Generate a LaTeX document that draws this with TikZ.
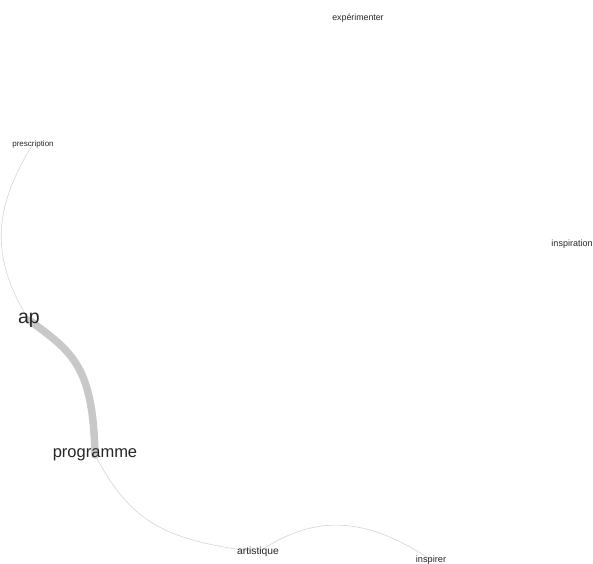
\documentclass[tikz,border=0pt]{standalone}
\usepackage{fontspec}
\setmainfont{Liberation Sans}
\usetikzlibrary{backgrounds}
\definecolor{edgegray}{HTML}{D4D4D4}
\definecolor{thickgray}{HTML}{C8C8C8}
\tikzset{
    word/.style={inner sep=0pt, text=black!85},
    thin edge/.style={draw=edgegray, line width=0.6pt},
    thick edge/.style={draw=thickgray, line width=7.5pt, line cap=round}
}

\begin{document}
\begin{tikzpicture}[x=1pt,y=-1pt]
        \useasboundingbox (0,0) rectangle (593,563);
        \clip (0,0) rectangle (593,563);

        \node[word, font=\fontsize{8.8}{10}\selectfont] (exp) at (358,18) {expérimenter};
        \node[word, font=\fontsize{8}{9}\selectfont] (presc) at (33,144) {prescription};
        \node[word, font=\fontsize{9}{10}\selectfont] (inspi) at (572,244) {inspiration};
        \node[word, font=\fontsize{19.5}{21}\selectfont] (ap) at (29,320) {ap};
        \node[word, font=\fontsize{16.5}{18}\selectfont] (prog) at (95,455) {programme};
        \node[word, font=\fontsize{10.3}{11}\selectfont] (art) at (258,552) {artistique};
        \node[word, font=\fontsize{9.2}{10}\selectfont] (insp) at (431,560) {inspirer};

        \begin{scope}[on background layer]
            % edges
            \draw[thin edge] (presc.center) .. controls (-5,205) and (-12,255) .. (ap.center);
            \draw[thick edge] (ap.center) .. controls (72,352) and (93,365) .. (prog.center);
            \draw[thin edge] (prog.center) .. controls (130,520) and (160,540) .. (art.center);
            \draw[thin edge] (art.center) .. controls (300,525) and (350,505) .. (insp.center);
        \end{scope}
    \end{tikzpicture}
\end{document}
